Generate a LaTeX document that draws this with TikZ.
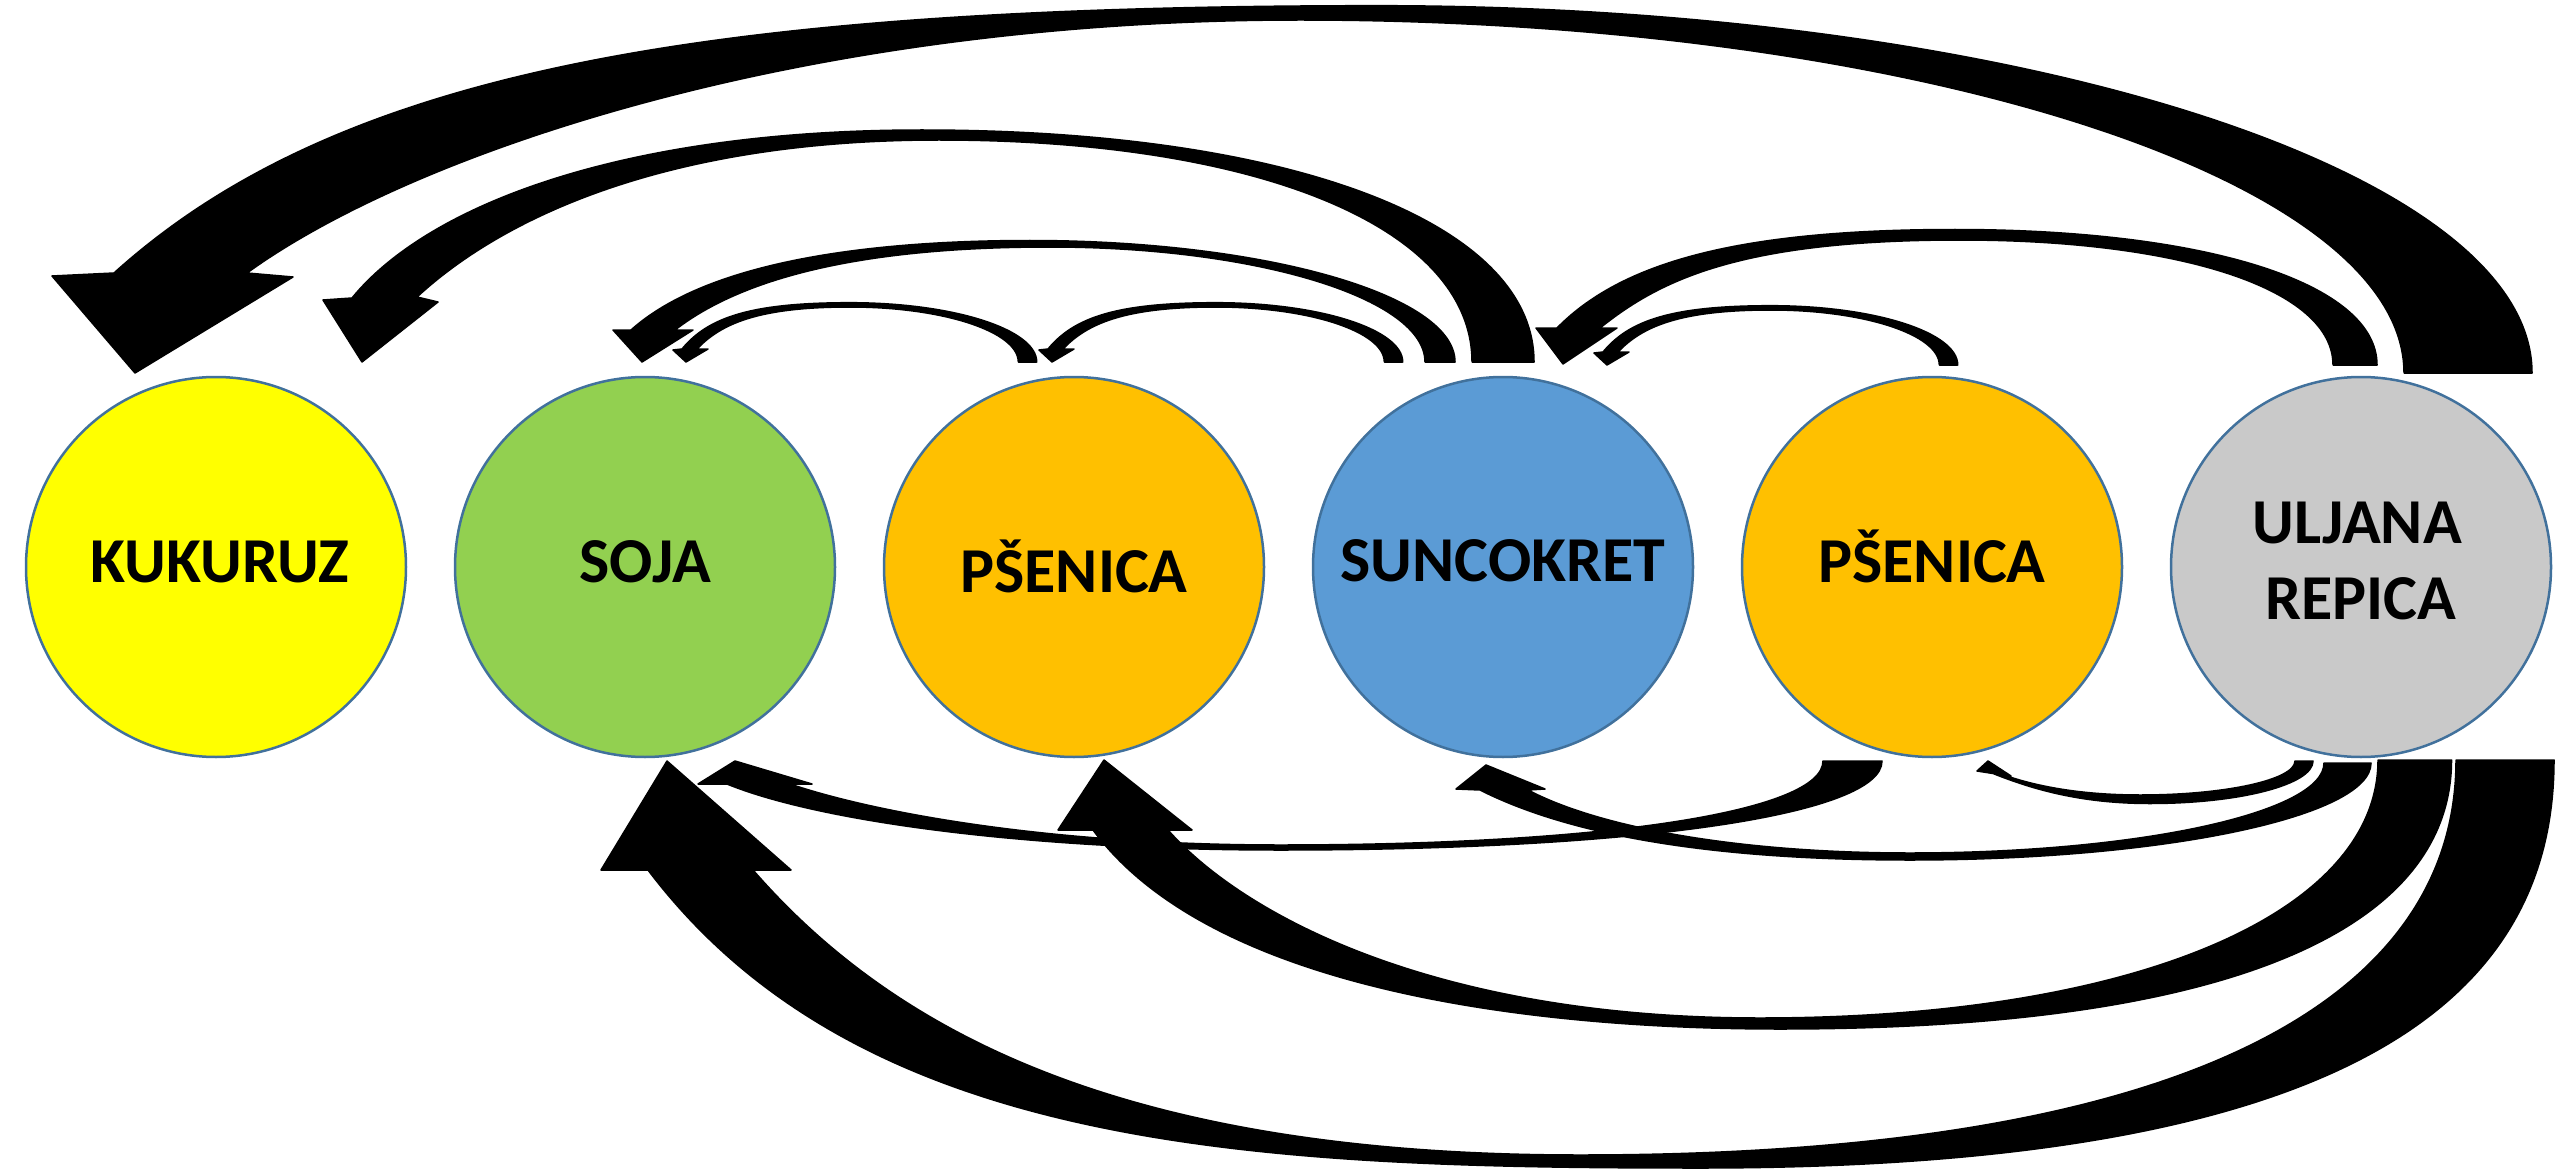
\documentclass[tikz,border=0pt]{standalone}
\usepackage{fontspec}
\setmainfont{Carlito}
\definecolor{cYellow}{HTML}{FFFF00}
\definecolor{cGreen}{HTML}{92D050}
\definecolor{cOrange}{HTML}{FFC000}
\definecolor{cBlue}{HTML}{5B9BD5}
\definecolor{cGray}{HTML}{C9C9C9}
\definecolor{cEdge}{HTML}{41719C}
\newcommand\smallTopArrow{(1036.7,362) .. controls (1036.7,329.3) and (953,302.7) .. (850,302.7)
  .. controls (750,302.7) and (708,317.6) .. (682,349) -- (673,350) -- (686,362) -- (708,349) -- (697,349)
  .. controls (721.5,323) and (760,307) .. (850,307)
  .. controls (943,307) and (1018.3,331.6) .. (1018.3,362) -- cycle}
\begin{document}
\begin{tikzpicture}[x=1pt,y=-1pt,
  crop/.style={circle,draw=cEdge,line width=2.5pt,minimum size=380pt,inner sep=0pt},
  lbl/.style={anchor=base,inner sep=0pt,font=\fontsize{64}{77}\selectfont\bfseries,align=center},
  arrowfill/.style={fill=black,draw=black,line width=1.5pt,line join=round}]
\useasboundingbox (0,0) rectangle (2560,1169);
% circles
\node[crop,fill=cYellow] (kuk) at (216,567) {};
\node[crop,fill=cGreen]  (soja) at (645,567) {};
\node[crop,fill=cOrange] (pse1) at (1074,567) {};
\node[crop,fill=cBlue]   (sun) at (1503,567) {};
\node[crop,fill=cOrange] (pse2) at (1932,567) {};
\node[crop,fill=cGray]   (ulj) at (2361,567) {};
% labels
\node[lbl] (tkuk) at (220,582) {KUKURUZ};
\node[lbl] (tsoja) at (645,582) {SOJA};
\node[lbl] (tpse1) at (1074,592) {PŠENICA};
\node[lbl] (tsun) at (1503,581) {SUNCOKRET};
\node[lbl] (tpse2) at (1932,582) {PŠENICA};
\node[lbl] (tulj1) at (2357,543) {ULJANA};
\node[lbl] (tulj2) at (2361,619) {REPICA};
% ---- top arrows ----
% A1 uljana -> kukuruz
\fill[arrowfill] (2532,373) .. controls (2532,170) and (2015,5.7) .. (1378,5.7)
  .. controls (700,5.7) and (337,71.6) .. (114,273)
  -- (52,276) -- (135,373) -- (293,277) -- (247,273)
  .. controls (411,154) and (800,20) .. (1300,20)
  .. controls (1909,20) and (2404,178) .. (2404,373) -- cycle;
% A2 suncokret -> kukuruz
\fill[arrowfill] (1534,362) .. controls (1534,222) and (1290,130) .. (922,130)
  .. controls (622,130) and (428,205) .. (352,298)
  -- (323,300) -- (362,362) -- (438,302) -- (417,297)
  .. controls (498,222) and (659,140) .. (939,140)
  .. controls (1260,140) and (1472,228) .. (1472,362) -- cycle;
% A3 suncokret -> soja
\fill[arrowfill] (1455,362) .. controls (1455,295) and (1264.6,240.5) .. (1030,240.5)
  .. controls (870,240.5) and (708,261) .. (631,330)
  -- (613,330) -- (642,362) -- (693,330) -- (675,330)
  .. controls (746,275) and (870,247) .. (1050,247)
  .. controls (1257,247) and (1425,298.5) .. (1425,362) -- cycle;
% A4 psenica1 -> soja
\fill[arrowfill] \smallTopArrow;
% A5 suncokret -> psenica1
\begin{scope}[shift={(366,0)}]
\fill[arrowfill] \smallTopArrow;
\end{scope}
% A6 uljana -> suncokret
\fill[arrowfill] (2377,365) .. controls (2377,283.7) and (2208,229.5) .. (1955,229.5)
  .. controls (1735,229.5) and (1620.6,263.4) .. (1557,328)
  -- (1536,328) -- (1563,364) -- (1617,328) -- (1600,328)
  .. controls (1660,280) and (1740,240) .. (1960,240)
  .. controls (2184,240) and (2333,290) .. (2333,365) -- cycle;
% A7 psenica2 -> suncokret
\begin{scope}[shift={(921,3)}]
\fill[arrowfill] \smallTopArrow;
\end{scope}
% ---- bottom arrows ----
% B1 uljana -> soja
\fill[arrowfill] (2554,760) .. controls (2554,1005) and (2340,1168) .. (1700,1168)
  .. controls (1250,1168) and (860,1150) .. (648,870)
  -- (601,870) -- (667,761) -- (791,870) -- (753,870)
  .. controls (897.5,1036) and (1130,1155) .. (1580,1155)
  .. controls (2193,1155) and (2456,997) .. (2456,760) -- cycle;
% B2 uljana -> psenica1
\fill[arrowfill] (2451.5,760) .. controls (2451.5,921.4) and (2250,1029) .. (1780,1029)
  .. controls (1530,1029) and (1211,990) .. (1093,830)
  -- (1058,830) -- (1104,760) -- (1192,830) -- (1168,830)
  .. controls (1240.6,912.5) and (1430,1018) .. (1760,1018)
  .. controls (2130.8,1018) and (2378,915) .. (2378,760) -- cycle;
% B3 uljana -> suncokret
\fill[arrowfill] (2371,763) .. controls (2371,816.5) and (2164.5,860) .. (1910,860)
  .. controls (1710,860) and (1569,835) .. (1480,790)
  -- (1456,789) -- (1486,765) -- (1545,789) -- (1528,790)
  .. controls (1600,828) and (1740,853) .. (1910,853)
  .. controls (2138.5,853) and (2324,812.7) .. (2324,763) -- cycle;
% B4 psenica2 -> soja
\fill[arrowfill] (1882,761) .. controls (1882,814.4) and (1641,850) .. (1280,850)
  .. controls (1030,850) and (820,822) .. (727,784)
  -- (698,784) -- (735,761) -- (812,784) -- (790,784)
  .. controls (876,813) and (1050,845) .. (1280,845)
  .. controls (1606,845) and (1823,811.4) .. (1823,761) -- cycle;
% B5 uljana -> psenica2
\fill[arrowfill] (2313,761) .. controls (2313,784.5) and (2240,803.5) .. (2150,803.5)
  .. controls (2080,803.5) and (2032,789) .. (1993,773.5)
  -- (1977,771) -- (1988,761) -- (2011,776) -- (2004,775)
  .. controls (2035,786) and (2080,795) .. (2140,795)
  .. controls (2225.6,795) and (2295,779.8) .. (2295,761) -- cycle;
\end{tikzpicture}
\end{document}
